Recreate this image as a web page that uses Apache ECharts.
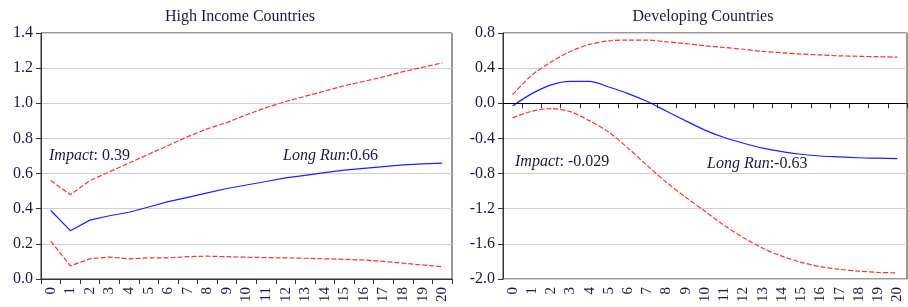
<!DOCTYPE html>
<html>
<head>
<meta charset="utf-8">
<script src="https://cdn.jsdelivr.net/npm/echarts@6/dist/echarts.min.js"></script>
<style>html,body{margin:0;padding:0;background:#fff;}#c{width:908px;height:307px;}</style>
</head>
<body>
<div id="c"></div>
<script>
var periods = ['0','1','2','3','4','5','6','7','8','9','10','11','12','13','14','15','16','17','18','19','20'];

var hiEstimate = [0.39,0.275,0.335,0.36,0.38,0.41,0.44,0.465,0.49,0.515,0.535,0.555,0.575,0.59,0.605,0.62,0.63,0.64,0.65,0.655,0.66];
var hiUpper = [0.56,0.48,0.56,0.61,0.66,0.71,0.76,0.81,0.855,0.89,0.935,0.975,1.01,1.04,1.07,1.1,1.125,1.15,1.18,1.205,1.23];
var hiLower = [0.215,0.075,0.115,0.125,0.115,0.12,0.12,0.127,0.13,0.127,0.124,0.122,0.12,0.118,0.115,0.112,0.108,0.1,0.09,0.08,0.07];

var devEstimate = [-0.03,0.11,0.21,0.25,0.25,0.185,0.11,0.02,-0.09,-0.2,-0.305,-0.39,-0.455,-0.51,-0.55,-0.58,-0.6,-0.61,-0.62,-0.625,-0.63];
var devUpper = [0.1,0.32,0.47,0.59,0.67,0.71,0.72,0.72,0.70,0.68,0.655,0.635,0.615,0.59,0.575,0.56,0.55,0.54,0.535,0.53,0.525];
var devLower = [-0.165,-0.09,-0.06,-0.095,-0.2,-0.33,-0.51,-0.71,-0.90,-1.07,-1.23,-1.39,-1.53,-1.65,-1.74,-1.81,-1.86,-1.89,-1.91,-1.925,-1.93];

var hiTicks = {min:0, max:1.4, interval:0.2};
var devTicks = {min:-2.0, max:0.8, interval:0.4};

var FONT = '"Liberation Serif", "DejaVu Serif", serif';
var TXT = '#1a1a40';
var RED = '#ff3333';
var BLUE = '#2020ff';

function xAxisFor(i){
  return {
    type:'category', gridIndex:i, data:periods, boundaryGap:true,
    axisLine:{show:true, lineStyle:{color:'#333', width:1}},
    axisTick:{show:true, length:5, lineStyle:{color:'#333'}},
    axisLabel:{rotate:90, fontFamily:FONT, fontSize:15, color:TXT, margin:8, interval:0},
    splitLine:{show:false}
  };
}
function yAxisFor(i, t){
  return {
    type:'value', gridIndex:i, min:t.min, max:t.max, interval:t.interval,
    axisLine:{show:true, lineStyle:{color:'#333', width:1}},
    axisTick:{show:true, length:5, lineStyle:{color:'#333'}},
    axisLabel:{fontFamily:FONT, fontSize:16, color:TXT, margin:8,
      formatter:function(v){return v.toFixed(1);}},
    splitLine:{show:true, lineStyle:{color:'#d0d0d0', width:1}}
  };
}
function line(i, data, color, dashed, extra){
  var s = {
    type:'line', xAxisIndex:i, yAxisIndex:i, data:data, symbol:'none', smooth:false,
    lineStyle:{color:color, width:1.2, type: dashed ? [5,2] : 'solid'},
    silent:true, animation:false, z:3
  };
  if (extra) for (var k in extra) s[k]=extra[k];
  return s;
}
var rich = {i:{fontStyle:'italic', fontFamily:FONT, fontSize:16, color:TXT}};
function note(text, left, top){
  return {text:text, left:left, top:top, padding:0,
    textStyle:{fontFamily:FONT, fontSize:16, fontWeight:'normal', color:TXT, rich:rich}};
}

var chart = echarts.init(document.getElementById('c'), null, {renderer:'canvas'});
chart.setOption({
  animation:false,
  backgroundColor:'#fff',
  title:[
    {text:'High Income Countries', left:240, top:9, textAlign:'center', padding:0,
      textStyle:{fontFamily:FONT, fontSize:16, fontWeight:'normal', color:TXT}},
    {text:'Developing Countries', left:703, top:9, textAlign:'center', padding:0,
      textStyle:{fontFamily:FONT, fontSize:16, fontWeight:'normal', color:TXT}},
    note('{i|Impact}: 0.39', 49, 148),
    note('{i|Long Run}:0.66', 283, 148),
    note('{i|Impact}: -0.029', 515, 154),
    note('{i|Long Run}:-0.63', 707, 156)
  ],
  grid:[
    {left:41, top:33, width:411, height:246, show:true, borderColor:'#333', borderWidth:1, backgroundColor:'transparent'},
    {left:503, top:33, width:404, height:246, show:true, borderColor:'#333', borderWidth:1, backgroundColor:'transparent'}
  ],
  xAxis:[xAxisFor(0), xAxisFor(1)],
  yAxis:[yAxisFor(0, hiTicks), yAxisFor(1, devTicks)],
  series:[
    line(0, hiUpper, RED, true),
    line(0, hiLower, RED, true),
    line(0, hiEstimate, BLUE, false),
    line(1, devUpper, RED, true, {smooth:0.3}),
    line(1, devLower, RED, true, {smooth:0.3}),
    line(1, devEstimate, BLUE, false, {smooth:0.3, markLine:{silent:true, symbol:'none', label:{show:false},
      lineStyle:{color:'#000', width:1, type:'solid'}, data:[{yAxis:0}]}})
  ]
});
</script>
</body>
</html>
